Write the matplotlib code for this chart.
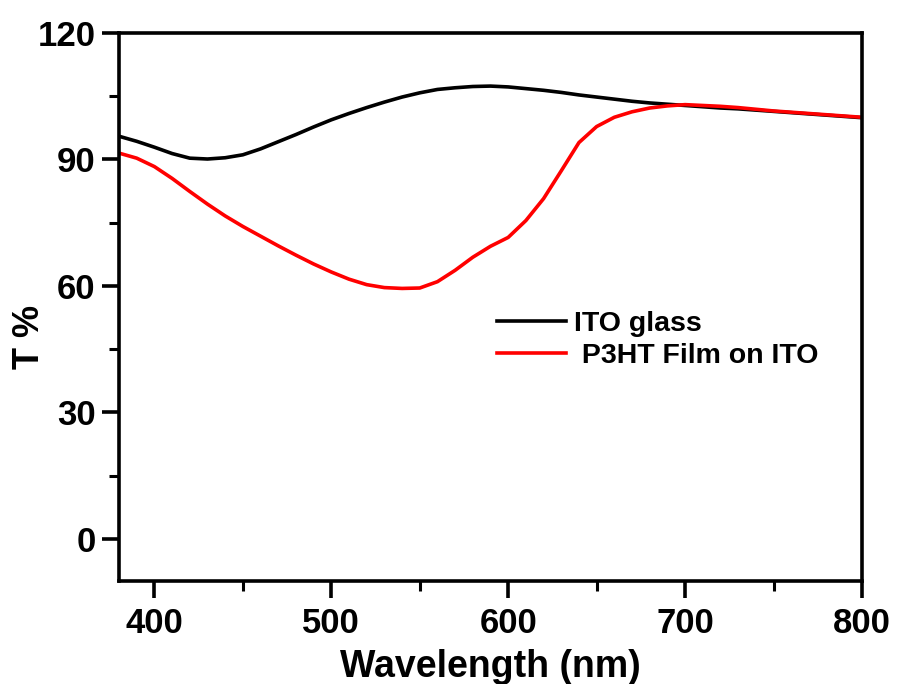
import matplotlib
matplotlib.use('Agg')
import matplotlib.pyplot as plt
from matplotlib.ticker import MultipleLocator

plt.rcParams['font.family'] = ['Liberation Sans', 'DejaVu Sans']
plt.rcParams['font.weight'] = 'bold'

# transmittance spectra, read every 10 nm
wavelength = [380, 390, 400, 410, 420, 430, 440, 450, 460, 470, 480, 490,
              500, 510, 520, 530, 540, 550, 560, 570, 580, 590, 600, 610,
              620, 630, 640, 650, 660, 670, 680, 690, 700, 710, 720, 730,
              740, 750, 760, 770, 780, 790, 800]

ito_glass = [95.5, 94.3, 92.9, 91.4, 90.3, 90.1, 90.4, 91.1, 92.5, 94.2,
             95.9, 97.7, 99.4, 100.9, 102.3, 103.6, 104.8, 105.8, 106.6,
             107.0, 107.3, 107.4, 107.2, 106.8, 106.4, 105.9, 105.3, 104.8,
             104.3, 103.8, 103.4, 103.1, 102.8, 102.5, 102.2, 102.0, 101.7,
             101.4, 101.1, 100.8, 100.5, 100.2, 99.9]

p3ht_film = [91.5, 90.3, 88.3, 85.5, 82.4, 79.4, 76.6, 74.1, 71.8, 69.5,
             67.3, 65.2, 63.3, 61.6, 60.3, 59.6, 59.4, 59.5, 61.0, 63.7,
             66.8, 69.4, 71.5, 75.5, 80.7, 87.3, 94.0, 97.8, 100.0, 101.3,
             102.2, 102.7, 103.0, 102.8, 102.6, 102.3, 101.9, 101.5, 101.2,
             100.9, 100.6, 100.3, 100.0]

labels = ['ITO glass', ' P3HT Film on ITO']

fig = plt.figure(figsize=(8.99, 6.84), dpi=100)
ax = fig.add_axes([0.1324, 0.1506, 0.8264, 0.8012])

ax.plot(wavelength, ito_glass, color='black', lw=2.6, label=labels[0])
ax.plot(wavelength, p3ht_film, color='red', lw=2.6, label=labels[1])

ax.set_xlim(380, 800)
ax.set_ylim(-10, 120)
ax.xaxis.set_major_locator(MultipleLocator(100))
ax.xaxis.set_minor_locator(MultipleLocator(50))
ax.yaxis.set_major_locator(MultipleLocator(30))
ax.yaxis.set_minor_locator(MultipleLocator(15))

for side in ax.spines.values():
    side.set_linewidth(2.6)

ax.tick_params(which='major', direction='out', length=12, width=2.6,
               labelsize=25, top=False, right=False)
ax.tick_params(which='minor', direction='out', length=7, width=2.2,
               top=False, right=False)
ax.tick_params(axis='x', which='major', pad=7)
ax.tick_params(axis='y', which='major', pad=5)

ax.set_xlabel('Wavelength (nm)', fontsize=27, fontweight='bold', labelpad=6)
ax.set_ylabel('T %', fontsize=26, fontweight='bold')
ax.yaxis.set_label_coords(-0.097, 0.445)

ax.legend(loc='upper left', bbox_to_anchor=(0.509, 0.492), frameon=False,
          fontsize=20.5, borderaxespad=0, borderpad=0, handlelength=2.4,
          handletextpad=0.3, labelspacing=0.2)

fig.savefig('out.png', dpi=100)
